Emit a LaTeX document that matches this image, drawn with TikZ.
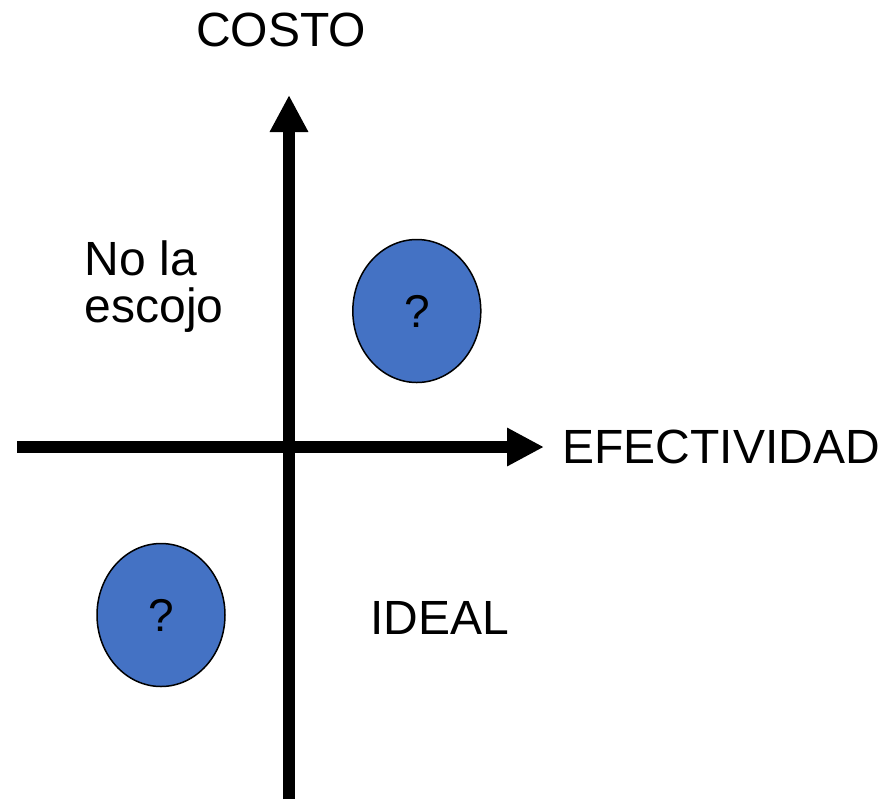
\documentclass[tikz,border=0pt]{standalone}
\usepackage{fontspec}
\setmainfont{Liberation Sans}
\usetikzlibrary{positioning,arrows.meta,shapes.geometric}
\definecolor{qblue}{HTML}{4472C4}
\tikzset{axis line/.style={line width=6pt, -{Triangle[length=18.5pt,width=18pt]}},
  every node/.style={inner sep=0pt, font=\fontsize{24}{23.5}\selectfont},
  qbubble/.style={ellipse, draw=black, line width=0.75pt, fill=qblue, minimum width=64pt, minimum height=71.5pt}}

\begin{document}
\begin{tikzpicture}[x=0.5pt,y=-0.5pt]
\useasboundingbox (0,0) rectangle (884,799);
\coordinate (xL) at (17,447);
\coordinate (xR) at (544,447);
\coordinate (yB) at (289,799);
\coordinate (yT) at (289,95);
\draw[axis line] (xL) -- (xR);
\draw[axis line] (yB) -- (yT);
\node (costo) at (281,29.5) {COSTO};
\node (efect) [right=9pt of xR] {EFECTIVIDAD};
\node (noesc) [anchor=north west, align=left] at (84.5,240) {No la\\escojo};
\node (ideal) at (439.7,617.5) {IDEAL};
\node[font=\fontsize{23}{23.5}\selectfont] (q1) [qbubble] at (416.8,311) {?};
\node[font=\fontsize{23}{23.5}\selectfont] (q2) [qbubble] at (161,615) {?};
\end{tikzpicture}
\end{document}
